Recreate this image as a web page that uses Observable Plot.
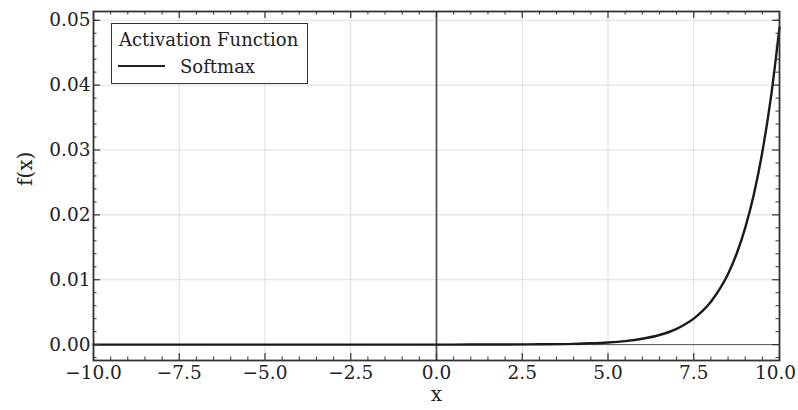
<!DOCTYPE html>
<html>
<head>
<meta charset="utf-8">
<script src="https://cdn.jsdelivr.net/npm/d3@7"></script>
<script src="https://cdn.jsdelivr.net/npm/@observablehq/plot@0.6"></script>
<style>
  body { margin: 0; background: #fff; }
  #wrap { position: relative; width: 798px; height: 410px; font-family: "DejaVu Serif", serif; }
  .legend { position: absolute; left: 111px; top: 23px; width: 195px; height: 59px; border: 1.5px solid #333; background: #fff; color: #222; font-size: 18px; }
  .legend .title { position: absolute; left: 7px; top: 5px; line-height: 21px; white-space: nowrap; }
  .legend .sample { position: absolute; left: 5.5px; top: 41px; width: 47px; height: 0; border-top: 2.5px solid #222; }
  .legend .name { position: absolute; left: 68px; top: 32px; line-height: 21px; white-space: nowrap; }
</style>
</head>
<body>
<div id="wrap">
  <div id="chart"></div>
  <div class="legend">
    <div class="title">Activation Function</div>
    <div class="sample"></div>
    <div class="name">Softmax</div>
  </div>
</div>
<script>
// Softmax curve, values
const softmaxX = [-10, -8, -6, -4, -2, 0, 1, 2, 3, 4, 4.5, 5, 5.5, 6, 6.5, 7, 7.25, 7.5, 7.75, 8, 8.25, 8.5, 8.75, 9, 9.25, 9.5, 9.75, 10];
const softmaxY = [0, 0, 0, 0, 0, 0.000002, 0.000006, 0.000016, 0.000045, 0.00012, 0.0002, 0.00033, 0.00054, 0.0009, 0.00148, 0.00243, 0.00313, 0.00401, 0.00515, 0.00662, 0.0085, 0.0109, 0.014, 0.018, 0.0231, 0.0297, 0.0381, 0.0489];

// Tick values
const xMajor = [-10, -7.5, -5, -2.5, 0, 2.5, 5, 7.5, 10];
const xMinor = [-9.5, -9, -8.5, -8, -7, -6.5, -6, -5.5, -4.5, -4, -3.5, -3, -2, -1.5, -1, -0.5, 0.5, 1, 1.5, 2, 3, 3.5, 4, 4.5, 5.5, 6, 6.5, 7, 8, 8.5, 9, 9.5];
const yMajor = [0, 0.01, 0.02, 0.03, 0.04, 0.05];
const yMinor = [-0.002, 0.002, 0.004, 0.006, 0.008, 0.012, 0.014, 0.016, 0.018, 0.022, 0.024, 0.026, 0.028, 0.032, 0.034, 0.036, 0.038, 0.042, 0.044, 0.046, 0.048, 0.05];

const data = softmaxX.map((x, i) => ({x, y: softmaxY[i]}));

const W = 798, H = 410;
const mL = 93, mR = 19, mT = 11, mB = 50;
const fw = W - mL - mR, fh = H - mT - mB;
const major = 7, minor = 3.5;
const ink = "#333";
const xFmt = d3.format(".1f");

const chart = Plot.plot({
  width: W,
  height: H,
  marginLeft: mL,
  marginRight: mR,
  marginTop: mT,
  marginBottom: mB,
  style: { fontFamily: "DejaVu Serif, serif", fontSize: "18.5px", color: "#222", background: "#fff", overflow: "visible" },
  x: { domain: [-10, 10] },
  y: { domain: [-0.00245, 0.05135] },
  marks: [
    Plot.gridX(xMajor, { stroke: "#d4d4d4", strokeOpacity: 1, strokeWidth: 0.8 }),
    Plot.gridY(yMajor, { stroke: "#d4d4d4", strokeOpacity: 1, strokeWidth: 0.8 }),
    Plot.ruleY([0], { stroke: "#555", strokeWidth: 1 }),
    Plot.ruleX([0], { stroke: "#555", strokeWidth: 1.8 }),
    Plot.line(data, { x: "x", y: "y", stroke: "#1a1a1a", strokeWidth: 2.4, curve: "monotone-x" }),
    // inward ticks: bottom & top
    Plot.tickX(xMajor, { x: d => d, insetTop: fh - major, stroke: ink, strokeWidth: 1.2 }),
    Plot.tickX(xMajor, { x: d => d, insetBottom: fh - major, stroke: ink, strokeWidth: 1.2 }),
    Plot.tickX(xMinor, { x: d => d, insetTop: fh - minor, stroke: ink, strokeWidth: 1 }),
    Plot.tickX(xMinor, { x: d => d, insetBottom: fh - minor, stroke: ink, strokeWidth: 1 }),
    // inward ticks: left & right
    Plot.tickY(yMajor, { y: d => d, insetRight: fw - major, stroke: ink, strokeWidth: 1.2 }),
    Plot.tickY(yMajor, { y: d => d, insetLeft: fw - major, stroke: ink, strokeWidth: 1.2 }),
    Plot.tickY(yMinor, { y: d => d, insetRight: fw - minor, stroke: ink, strokeWidth: 1 }),
    Plot.tickY(yMinor, { y: d => d, insetLeft: fw - minor, stroke: ink, strokeWidth: 1 }),
    Plot.frame({ stroke: ink, strokeWidth: 1.8 }),
    Plot.axisX(xMajor.slice(0, -1), { anchor: "bottom", tickSize: 0, tickPadding: 5, tickFormat: xFmt, label: null, fontSize: 18.5 }),
    Plot.axisX(xMajor.slice(-1), { anchor: "bottom", tickSize: 0, tickPadding: 5, tickFormat: xFmt, label: null, fontSize: 18.5, dx: -4 }),
    Plot.axisY(yMajor, { anchor: "left", tickSize: 0, tickPadding: 3, tickFormat: d3.format(".2f"), label: null, fontSize: 18.5 }),
    Plot.text(["x"], { text: d => d, frameAnchor: "bottom", dy: 40, fontSize: 20, fill: "#222" }),
    Plot.text(["f(x)"], { text: d => d, frameAnchor: "left", dx: -68, rotate: -90, fontSize: 20, fill: "#222" })
  ]
});
document.getElementById("chart").appendChild(chart);
</script>
</body>
</html>
